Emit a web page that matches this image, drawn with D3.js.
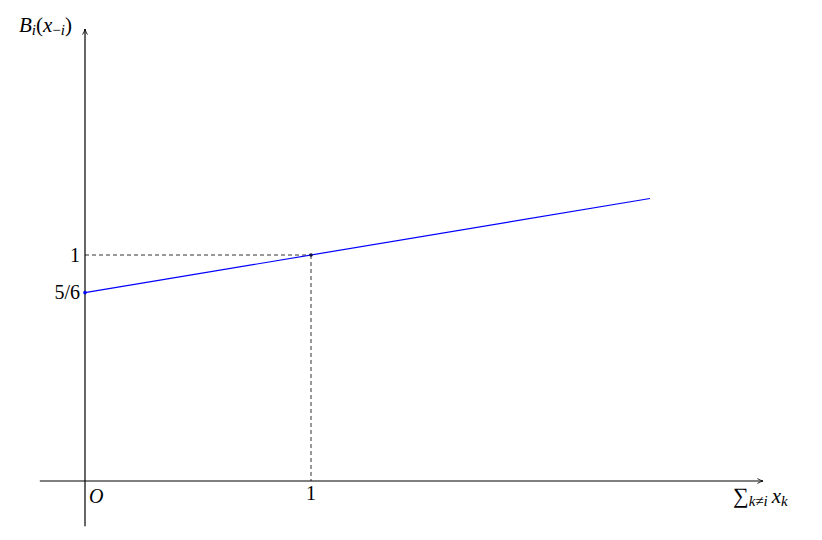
<!DOCTYPE html>
<html>
<head>
<meta charset="utf-8">
<script src="https://cdn.jsdelivr.net/npm/d3@7"></script>
<style>
  body { margin: 0; background: #fff; }
</style>
</head>
<body>
<div id="chart"></div>
<script>
// best response line B_i = 5/6 + x/6
let lineX = [0, 2.5];
let lineY = [5 / 6, 5 / 6 + 2.5 / 6];
// marked points
let markX = [0, 1];
let markY = [5 / 6, 1];
// tick labels
let yTickVals = [1, 5 / 6];
let yTickLabels = ["1", "5/6"];
let xTickVals = [1];
let xTickLabels = ["1"];
// axis extents (data units)
let xExtent = [-0.2, 3.0];
let yExtent = [-0.2, 2.0];

let width = 822, height = 540;
let serif = "'Liberation Serif'";

let x = d3.scaleLinear().domain([0, 1]).range([85, 311]);
let y = d3.scaleLinear().domain([0, 1]).range([481, 255]);

let svg = d3.select("#chart").append("svg")
    .attr("width", width)
    .attr("height", height);

let defs = svg.append("defs");
defs.append("marker")
    .attr("id", "arrow")
    .attr("viewBox", "0 0 10 10")
    .attr("refX", 9).attr("refY", 5)
    .attr("markerWidth", 7).attr("markerHeight", 7)
    .attr("markerUnits", "userSpaceOnUse")
    .attr("orient", "auto")
    .append("path")
    .attr("d", "M1,1.5 Q5,4 9,5 Q5,6 1,8.5")
    .attr("fill", "none")
    .attr("stroke", "#000")
    .attr("stroke-width", 1.2);

// dashed guides
svg.append("line")
    .attr("x1", x(0)).attr("y1", y(1))
    .attr("x2", x(1)).attr("y2", y(1))
    .attr("stroke", "#333").attr("stroke-dasharray", "4,3");
svg.append("line")
    .attr("x1", x(1)).attr("y1", y(1))
    .attr("x2", x(1)).attr("y2", y(0))
    .attr("stroke", "#333").attr("stroke-dasharray", "4,3");

// axes
svg.append("line")
    .attr("x1", x(xExtent[0])).attr("y1", y(0))
    .attr("x2", x(xExtent[1])).attr("y2", y(0))
    .attr("stroke", "#000").attr("stroke-width", 1.2)
    .attr("marker-end", "url(#arrow)");
svg.append("line")
    .attr("x1", x(0)).attr("y1", y(yExtent[0]))
    .attr("x2", x(0)).attr("y2", y(yExtent[1]))
    .attr("stroke", "#000").attr("stroke-width", 1.2)
    .attr("marker-end", "url(#arrow)");

// the line
svg.append("path")
    .datum(d3.zip(lineX, lineY))
    .attr("d", d3.line().x(d => x(d[0])).y(d => y(d[1])))
    .attr("fill", "none")
    .attr("stroke", "#0000ff")
    .attr("stroke-width", 1.2);

svg.selectAll(".mark")
    .data(d3.zip(markX, markY))
    .join("circle")
    .attr("class", "mark")
    .attr("cx", d => x(d[0]))
    .attr("cy", d => y(d[1]))
    .attr("r", 1.8)
    .attr("fill", (d, i) => i === 0 ? "#0000ff" : "#111144");

// tick labels
svg.selectAll(".ylab")
    .data(yTickVals)
    .join("text")
    .attr("class", "ylab")
    .attr("font-family", serif)
    .attr("x", x(0) - 5)
    .attr("y", d => y(d))
    .attr("dy", "0.33em")
    .attr("text-anchor", "end")
    .attr("font-size", 20)
    .text((d, i) => yTickLabels[i]);

svg.selectAll(".xlab")
    .data(xTickVals)
    .join("text")
    .attr("class", "xlab")
    .attr("font-family", serif)
    .attr("x", d => x(d))
    .attr("y", y(0) + 19)
    .attr("text-anchor", "middle")
    .attr("font-size", 20)
    .text((d, i) => xTickLabels[i]);

// origin
svg.append("text")
    .attr("font-family", serif)
    .attr("x", x(0) + 4).attr("y", y(0) + 22)
    .attr("font-size", 20).attr("font-style", "italic")
    .text("O");

// y axis title B_i(x_{-i})
let yt = svg.append("text")
    .attr("font-family", serif)
    .attr("x", 19).attr("y", 32)
    .attr("font-size", 21);
yt.append("tspan").attr("font-style", "italic").text("B");
yt.append("tspan").attr("font-style", "italic").attr("font-size", 15).attr("dy", 3).text("i");
yt.append("tspan").attr("dy", -3).text("(");
yt.append("tspan").attr("font-style", "italic").text("x");
yt.append("tspan").attr("font-size", 15).attr("dy", 3).text("−");
yt.append("tspan").attr("font-style", "italic").attr("font-size", 15).text("i");
yt.append("tspan").attr("dy", -3).text(")");

// x axis title sum_{k != i} x_k
let xt = svg.append("text")
    .attr("font-family", serif)
    .attr("x", 733).attr("y", 503)
    .attr("font-size", 22);
xt.append("tspan").text("∑");
xt.append("tspan").attr("font-style", "italic").attr("font-size", 15).attr("dy", 3).text("k");
xt.append("tspan").attr("font-size", 15).text("≠");
xt.append("tspan").attr("font-style", "italic").attr("font-size", 15).text("i");
xt.append("tspan").attr("font-style", "italic").attr("font-size", 21).attr("dy", -3).attr("dx", 4).text("x");
xt.append("tspan").attr("font-style", "italic").attr("font-size", 15).attr("dy", 3).text("k");
</script>
</body>
</html>
